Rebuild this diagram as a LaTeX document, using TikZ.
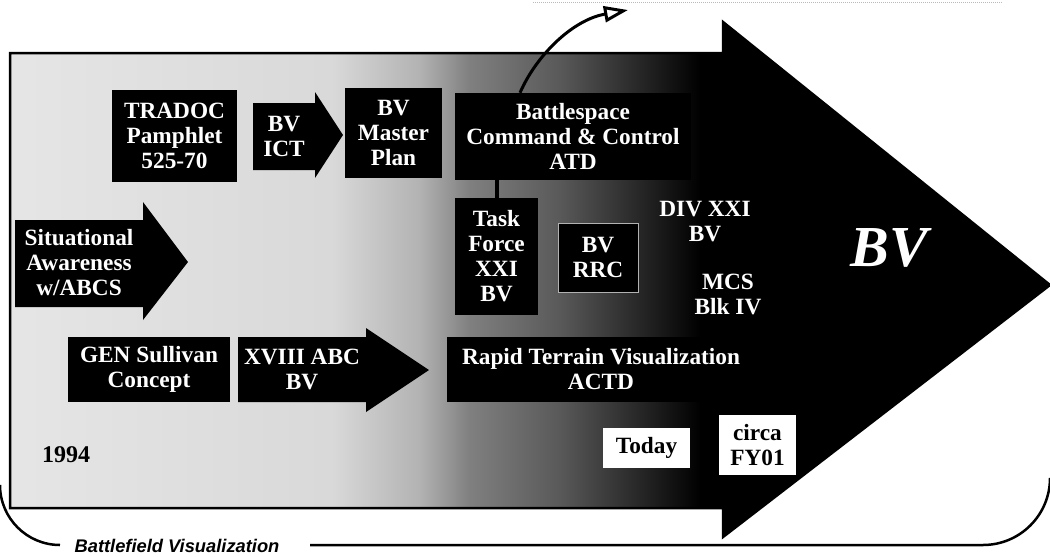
\documentclass[tikz,border=0pt]{standalone}
\usepackage{fontspec}
\setmainfont{Liberation Serif}
\newfontfamily\bvsans{Liberation Sans}
\usetikzlibrary{arrows.meta}

\pgfdeclarehorizontalshading{bvfade}{100bp}{color(0bp)=(black!10); color(25bp)=(black!10); color(40.5bp)=(black!15); color(44.7bp)=(black!30); color(47.1bp)=(black!50); color(51.4bp)=(black!65); color(55.3bp)=(black!85); color(58.2bp)=(black); color(100bp)=(black)}

\newcommand\boxfont{\fontsize{23.3}{25}\selectfont\bfseries}

\begin{document}
\begin{tikzpicture}[x=1pt, y=-1pt,
  bvbox/.style={fill=black, text=white, align=center, inner sep=0pt, font=\boxfont},
  datebox/.style={fill=white, text=black, align=center, inner sep=0pt, font=\boxfont},
  bvtext/.style={text=white, align=center, inner sep=0pt, font=\boxfont},
  rimline/.style={line width=2.5pt}]

  \useasboundingbox (0,0) rectangle (1050,557);

  % outer frame
  \draw[gray!55, line width=1pt, densely dotted] (533,2) -- (1003,2);
  \draw[rimline] (60,545) arc[start angle=90, end angle=180, radius=60];
  \draw[rimline] (310,545) -- (983,545) arc[start angle=90, end angle=0, radius=67];
  \node[font=\bvsans\bfseries\itshape\fontsize{18.3}{20}\selectfont, inner sep=0pt] (bfv) at (177,546) {Battlefield Visualization};

  % big arrow
  \shadedraw[shading=bvfade, line width=2.5pt] (10,53) -- (723,53) -- (723,22) -- (1050,285)
    -- (723,537) -- (723,508) -- (10,508) -- cycle;
  \node[text=white, inner sep=0pt, font=\fontsize{58}{60}\selectfont\bfseries\itshape] (bv) at (889,248) {BV};

  % small arrows
  \fill (253,103) -- (315,103) -- (315,92) -- (343,135) -- (315,178) -- (315,170) -- (253,170) -- cycle;
  \node[bvtext] (ict) at (284,136.5) {BV\\ICT};

  \fill (15,220) -- (143,220) -- (143,202) -- (188,262) -- (143,320) -- (143,307) -- (15,307) -- cycle;
  \node[bvtext] (sa) at (79,263) {Situational\\Awareness\\w/ABCS};

  \fill (238,337) -- (366,337) -- (366,328) -- (429,370) -- (366,412) -- (366,402) -- (238,402) -- cycle;
  \node[bvtext] (xviii) at (302,369.5) {XVIII ABC\\BV};

  % boxes
  \node[bvbox, minimum width=125pt, minimum height=92pt] (tradoc) at (174.5,136) {TRADOC\\Pamphlet\\525-70};
  \node[bvbox, minimum width=97pt, minimum height=90pt] (master) at (393.5,133) {BV\\Master\\Plan};
  \node[bvbox, minimum width=236pt, minimum height=87pt] (bcc) at (573,136.5) {Battlespace\\Command \& Control\\ATD};
  \node[bvbox, minimum width=83pt, minimum height=117pt] (tf) at (496.5,256.5) {Task\\Force\\XXI\\BV};
  \node[bvbox, draw=gray!60, minimum width=80pt, minimum height=69pt] (rrc) at (598,257.5) {BV\\RRC};
  \node[bvtext] (div) at (705,222) {DIV XXI\\BV};
  \node[bvtext] (mcs) at (728,294) {MCS\\Blk IV};
  \node[bvbox, minimum width=162pt, minimum height=65pt] (gen) at (149,369.5) {GEN Sullivan\\Concept};
  \node[bvbox, minimum width=308pt, minimum height=65pt] (rtv) at (601,369.5) {Rapid Terrain Visualization\\ACTD};

  % dates
  \node[font=\fontsize{24}{26}\selectfont\bfseries, inner sep=0pt] (y94) at (66,455) {1994};
  \node[datebox, minimum width=87pt, minimum height=40pt] (today) at (646.5,448) {Today};
  \node[datebox, minimum width=77pt, minimum height=60pt] (fy01) at (757.5,445) {circa\\FY01};

  % links
  \coordinate (bvout) at (628,10);
  \draw[line width=4pt] (tf.north) -- (tf.north |- bcc.south);
  \draw[line width=3pt, -{Triangle[open, length=24pt, width=16pt]}] ([xshift=-53pt]bcc.north)
    .. controls (536,56) and (572,20) .. (bvout);

\end{tikzpicture}
\end{document}
